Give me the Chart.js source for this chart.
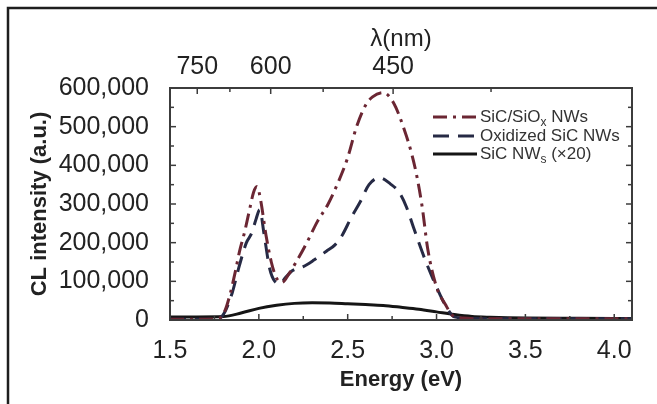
<!DOCTYPE html>
<html>
<head>
<meta charset="utf-8">
<script src="https://cdn.jsdelivr.net/npm/chart.js@4.4.0/dist/chart.umd.min.js"></script>
<style>
  html, body { margin: 0; padding: 0; background: #fff; }
</style>
</head>
<body>
<canvas id="clChart" width="657" height="404"></canvas>
<script>
// CL spectra, energy in eV, intensity in a.u.
const sicSiOxEnergy = [1.50, 1.70, 1.78, 1.81, 1.84, 1.87, 1.89, 1.92, 1.95, 1.97, 1.99, 2.01, 2.04, 2.07, 2.10, 2.13, 2.17, 2.21, 2.27, 2.33, 2.39, 2.45, 2.50, 2.55, 2.60, 2.64, 2.70, 2.76, 2.82, 2.86, 2.89, 2.92, 2.95, 3.00, 3.05, 3.09, 3.15, 3.30, 3.60, 3.90, 4.10];
const sicSiOxCounts = [2000, 2000, 5000, 25000, 70000, 130000, 175000, 228000, 290000, 330000, 345000, 310000, 220000, 150000, 108000, 97000, 120000, 150000, 200000, 255000, 300000, 360000, 420000, 500000, 555000, 577000, 588000, 560000, 490000, 430000, 370000, 290000, 185000, 85000, 40000, 12000, 5000, 3000, 3000, 3000, 3000];

const oxidizedEnergy = [1.50, 1.70, 1.78, 1.81, 1.85, 1.89, 1.93, 1.96, 1.985, 2.005, 2.03, 2.06, 2.09, 2.12, 2.15, 2.19, 2.25, 2.31, 2.38, 2.43, 2.47, 2.52, 2.57, 2.62, 2.68, 2.74, 2.79, 2.83, 2.87, 2.92, 2.96, 3.02, 3.06, 3.10, 3.20, 3.50, 3.80, 4.10];
const oxidizedCounts = [2000, 2000, 5000, 22000, 70000, 140000, 200000, 225000, 262000, 285000, 220000, 135000, 100000, 94000, 110000, 128000, 138000, 155000, 178000, 195000, 220000, 265000, 305000, 350000, 368000, 352000, 330000, 293000, 240000, 175000, 128000, 65000, 30000, 8000, 4000, 3000, 3000, 3000];

const sicEnergy = [1.50, 1.65, 1.80, 1.90, 2.00, 2.10, 2.20, 2.30, 2.40, 2.50, 2.60, 2.70, 2.80, 2.90, 3.00, 3.10, 3.20, 3.30, 3.50, 3.80, 4.10];
const sicCounts = [8000, 8000, 9000, 18000, 30000, 38000, 43000, 44500, 44000, 42000, 40000, 37500, 33000, 28000, 21000, 14000, 9000, 7000, 5000, 4500, 4000];

const energyTicks = [1.5, 1.75, 2.0, 2.25, 2.5, 2.75, 3.0, 3.25, 3.5, 3.75, 4.0];
const energyLabels = [1.5, 2.0, 2.5, 3.0, 3.5, 4.0];
const wavelengthTicks = [750, 675, 600, 525, 450, 375];
const wavelengthLabels = [750, 600, 450];
const intensityTicks = [0, 50000, 100000, 150000, 200000, 250000, 300000, 350000, 400000, 450000, 500000, 550000, 600000];

const seriesNames = ["SiC/SiO", "Oxidized SiC NWs", "SiC NW"];

function toPoints(xs, ys) {
    return xs.map((x, i) => ({ x: x, y: ys[i] }));
}

const tickFont = { family: "'Liberation Sans', Arial, sans-serif", size: 25 };
const titleFont = { family: "'Liberation Sans', Arial, sans-serif", size: 22, weight: "bold" };
const inkColor = "#222";

// plot box, inward ticks on all four sides, outer figure edge
const framePlugin = {
    id: "frame",
    afterDraw(chart) {
        const ctx = chart.ctx;
        const a = chart.chartArea;
        const sx = chart.scales.x, sx2 = chart.scales.x2, sy = chart.scales.y;
        ctx.save();
        ctx.strokeStyle = "#1e1e1e";
        ctx.lineWidth = 2.5;
        ctx.beginPath();
        ctx.moveTo(8, 404);
        ctx.lineTo(8, 8);
        ctx.lineTo(657, 8);
        ctx.stroke();

        ctx.strokeStyle = "#3c3c3c";
        ctx.lineWidth = 2;
        ctx.strokeRect(a.left, a.top, a.right - a.left, a.bottom - a.top);

        ctx.lineWidth = 1.5;
        const seg = (x1, y1, x2, y2) => {
            ctx.beginPath(); ctx.moveTo(x1, y1); ctx.lineTo(x2, y2); ctx.stroke();
        };
        sx.ticks.forEach(t => {
            const px = sx.getPixelForValue(t.value);
            const len = energyLabels.includes(t.value) ? 6 : 4;
            seg(px, a.bottom, px, a.bottom - len);
        });
        sx2.ticks.forEach(t => {
            const px = sx2.getPixelForValue(t.value);
            const len = wavelengthLabels.includes(Math.round(1240 / t.value)) ? 6 : 4;
            seg(px, a.top, px, a.top + len);
        });
        sy.ticks.forEach(t => {
            const py = sy.getPixelForValue(t.value);
            const len = t.value % 100000 === 0 ? 6 : 4;
            seg(a.left, py, a.left + len, py);
            seg(a.right, py, a.right - len, py);
        });
        ctx.restore();
    }
};

// legend inside the plot, with subscripts
const insideLegend = {
    id: "insideLegend",
    afterDraw(chart) {
        const ctx = chart.ctx;
        const rows = [117, 136, 154];
        const subs = ["x", "", "s"];
        const tails = [" NWs", "", " (\u00d720)"];
        const big = "17px 'Liberation Sans', Arial, sans-serif";
        const small = "12px 'Liberation Sans', Arial, sans-serif";
        ctx.save();
        chart.data.datasets.forEach((ds, i) => {
            const y = rows[i];
            ctx.strokeStyle = ds.borderColor;
            ctx.lineWidth = ds.borderWidth;
            ctx.setLineDash(ds.borderDash || []);
            ctx.beginPath();
            ctx.moveTo(433, y);
            ctx.lineTo(477, y);
            ctx.stroke();
            ctx.setLineDash([]);

            ctx.fillStyle = "#333";
            ctx.textBaseline = "middle";
            ctx.font = big;
            let x = 480;
            ctx.fillText(seriesNames[i], x, y);
            x += ctx.measureText(seriesNames[i]).width;
            if (subs[i]) {
                ctx.font = small;
                ctx.fillText(subs[i], x, y + 6);
                x += ctx.measureText(subs[i]).width;
                ctx.font = big;
                ctx.fillText(tails[i], x, y);
            }
        });
        ctx.restore();
    }
};

new Chart(document.getElementById("clChart"), {
    type: "line",
    data: {
        datasets: [{
            label: "SiC/SiOx NWs",
            data: toPoints(sicSiOxEnergy, sicSiOxCounts),
            borderColor: "#6b2633",
            borderWidth: 3,
            borderDash: [14, 6, 3, 6],
            cubicInterpolationMode: "monotone"
        }, {
            label: "Oxidized SiC NWs",
            data: toPoints(oxidizedEnergy, oxidizedCounts),
            borderColor: "#262a45",
            borderWidth: 3,
            borderDash: [16, 9],
            cubicInterpolationMode: "monotone"
        }, {
            label: "SiC NWs (x20)",
            data: toPoints(sicEnergy, sicCounts),
            borderColor: "#151515",
            borderWidth: 3,
            cubicInterpolationMode: "monotone"
        }]
    },
    plugins: [framePlugin, insideLegend],
    options: {
        responsive: false,
        animation: false,
        layout: { padding: { left: 0, right: 25, top: 0, bottom: 0 } },
        elements: { point: { radius: 0 } },
        plugins: {
            legend: { display: false },
            tooltip: { enabled: false }
        },
        scales: {
            x: {
                type: "linear",
                position: "bottom",
                min: 1.5,
                max: 4.1,
                afterBuildTicks: s => { s.ticks = energyTicks.map(v => ({ value: v })); },
                afterFit: s => { s.height = 84; },
                grid: { display: false },
                border: { display: false },
                ticks: {
                    autoSkip: false,
                    maxRotation: 0,
                    padding: 8,
                    font: tickFont,
                    color: inkColor,
                    callback: v => energyLabels.includes(v) ? v.toFixed(1) : ""
                },
                title: {
                    display: true,
                    text: "Energy (eV)",
                    font: titleFont,
                    color: inkColor,
                    padding: { top: 0, bottom: 11 }
                }
            },
            x2: {
                type: "linear",
                position: "top",
                min: 1.5,
                max: 4.1,
                afterBuildTicks: s => { s.ticks = wavelengthTicks.map(l => ({ value: 1240 / l })); },
                afterFit: s => { s.height = 88; },
                grid: { display: false },
                border: { display: false },
                ticks: {
                    autoSkip: false,
                    maxRotation: 0,
                    padding: -2,
                    font: tickFont,
                    color: inkColor,
                    callback: v => {
                        const l = Math.round(1240 / v);
                        return wavelengthLabels.includes(l) ? String(l) : "";
                    }
                },
                title: {
                    display: true,
                    text: "\u03bb(nm)",
                    font: { family: "'Liberation Sans', Arial, sans-serif", size: 24 },
                    color: inkColor,
                    padding: { top: 25, bottom: 0 }
                }
            },
            y: {
                min: 0,
                max: 600000,
                afterBuildTicks: s => { s.ticks = intensityTicks.map(v => ({ value: v })); },
                afterFit: s => { s.width = 170; },
                grid: { display: false },
                border: { display: false },
                ticks: {
                    autoSkip: false,
                    padding: 13,
                    font: tickFont,
                    color: inkColor,
                    callback: v => v % 100000 === 0 ? v.toLocaleString("en-US") : ""
                },
                title: {
                    display: true,
                    text: "CL intensity (a.u.)",
                    font: titleFont,
                    color: inkColor,
                    padding: { top: 27, bottom: 0 }
                }
            }
        }
    }
});
</script>
</body>
</html>
